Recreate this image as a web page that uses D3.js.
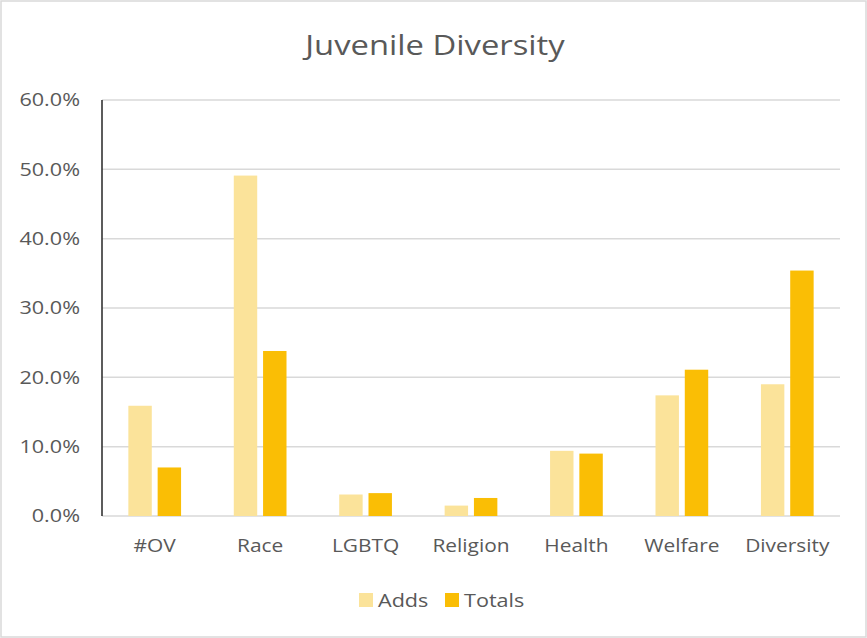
<!DOCTYPE html>
<html>
<head>
<meta charset="utf-8">
<script src="https://cdn.jsdelivr.net/npm/d3@7"></script>
<style>
  body { margin: 0; background: #fff; }
  text { font-family: "Open Sans", "Liberation Sans", sans-serif; fill: #595959; }
</style>
</head>
<body>
<div id="chart"></div>
<script>
// chart data
const categories = ["#OV", "Race", "LGBTQ", "Religion", "Health", "Welfare", "Diversity"];
const seriesNames = ["Adds", "Totals"];
const addsValues = [0.159, 0.491, 0.031, 0.015, 0.094, 0.174, 0.190];
const totalsValues = [0.070, 0.238, 0.033, 0.026, 0.090, 0.211, 0.354];
const yTicks = [0, 0.1, 0.2, 0.3, 0.4, 0.5, 0.6];

const colors = {Adds: "#fbe39a", Totals: "#fabe05"};

const width = 867, height = 638;
const margin = {left: 102, right: 27, top: 100, bottom: 122};

function stretch(sel, factor){
    // the original font is wider than what we have, widen the glyphs a bit
    sel.each(function(){
        let w = this.getComputedTextLength();
        d3.select(this)
            .attr("textLength", w * factor)
            .attr("lengthAdjust", "spacingAndGlyphs");
    });
}

let svg = d3.select("#chart").append("svg")
    .attr("width", width)
    .attr("height", height);

// outer border like the office chart frame
svg.append("rect")
    .attr("x", 1).attr("y", 1)
    .attr("width", width - 2).attr("height", height - 2)
    .attr("fill", "white")
    .attr("stroke", "#d9d9d9")
    .attr("stroke-width", 1.5);

let xScale = d3.scaleBand()
    .domain(categories)
    .range([margin.left, width - margin.right])
    .padding(0);

let innerScale = d3.scaleBand()
    .domain(seriesNames)
    .range([0, xScale.bandwidth()])
    .paddingInner(0.2)
    .paddingOuter(0.9);

let yScale = d3.scaleLinear()
    .domain([0, 0.6])
    .range([height - margin.bottom, margin.top]);

// gridlines
svg.append("g")
    .selectAll("line")
    .data(yTicks)
    .join("line")
    .attr("x1", margin.left)
    .attr("x2", width - margin.right)
    .attr("y1", d => yScale(d))
    .attr("y2", d => yScale(d))
    .attr("stroke", "#d9d9d9")
    .attr("stroke-width", 1.5);

// y axis
let yAxis = d3.axisLeft(yScale)
    .tickValues(yTicks)
    .tickFormat(d3.format(".1%"))
    .tickSize(0)
    .tickPadding(22);

let yg = svg.append("g")
    .attr("transform", `translate(${margin.left},0)`)
    .call(yAxis);
yg.select(".domain").remove();
yg.selectAll("text")
    .attr("font-size", 18)
    .attr("fill", "#595959")
    .call(stretch, 1.2);

// bars
let rows = categories.map((c, i) => ({cat: c, Adds: addsValues[i], Totals: totalsValues[i]}));

svg.append("g")
    .selectAll("g")
    .data(rows)
    .join("g")
    .attr("transform", d => `translate(${xScale(d.cat)},0)`)
    .selectAll("rect")
    .data(d => seriesNames.map(k => ({key: k, value: d[k]})))
    .join("rect")
    .attr("x", d => innerScale(d.key))
    .attr("width", innerScale.bandwidth())
    .attr("y", d => yScale(d.value))
    .attr("height", d => yScale(0) - yScale(d.value))
    .attr("fill", d => colors[d.key]);

// vertical axis line
svg.append("line")
    .attr("x1", margin.left).attr("x2", margin.left)
    .attr("y1", yScale(0.6)).attr("y2", yScale(0))
    .attr("stroke", "#262626")
    .attr("stroke-width", 1.5);

// x axis labels
let xAxis = d3.axisBottom(xScale).tickSize(0).tickPadding(23);
let xg = svg.append("g")
    .attr("transform", `translate(0,${yScale(0)})`)
    .call(xAxis);
xg.select(".domain").remove();
xg.selectAll("text")
    .attr("font-size", 19)
    .attr("fill", "#595959")
    .call(stretch, 1.1);

// title
svg.append("text")
    .attr("x", 435)
    .attr("y", 55)
    .attr("text-anchor", "middle")
    .attr("font-size", 28)
    .text("Juvenile Diversity")
    .call(stretch, 1.17);

// legend
let legendX = [359, 445];
let lg = svg.append("g")
    .selectAll("g")
    .data(seriesNames)
    .join("g")
    .attr("transform", (d, i) => `translate(${legendX[i]},593)`);
lg.append("rect")
    .attr("width", 14).attr("height", 14)
    .attr("fill", d => colors[d]);
lg.append("text")
    .attr("x", 19).attr("y", 14)
    .attr("font-size", 18)
    .text(d => d)
    .call(stretch, 1.2);
</script>
</body>
</html>
